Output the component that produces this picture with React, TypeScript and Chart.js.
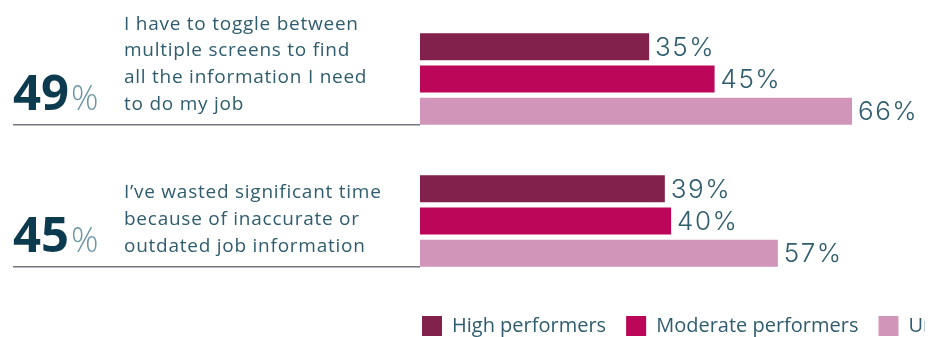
import React, { useEffect, useRef } from 'react';
import { Chart, registerables } from 'chart.js';

Chart.register(...registerables);

const categories = ['Toggle between screens', 'Inaccurate or outdated information'];
const overallPercent = [49, 45];
const statementLines = [
  ['I have to toggle between', 'multiple screens to find', 'all the information I need', 'to do my job'],
  ['I\u2019ve wasted significant time', 'because of inaccurate or', 'outdated job information'],
];
const seriesNames = ['High performers', 'Moderate performers', 'Underperformers'];
const highPerformers = [35, 39];
const moderatePerformers = [45, 40];
const underperformers = [66, 57];
const seriesValues = [highPerformers, moderatePerformers, underperformers];
const seriesColors = ['#82214b', '#bb0659', '#d195ba'];

// each statement panel in the reference uses its own bar scale
const axisMaxByGroup = [118.85, 123.93];
const axisIds = ['x', 'x2'];

const TEXT = '#2f5d6e';

const sidePlugin = {
  id: 'sideText',
  afterDatasetsDraw(chart: any) {
    const ctx = chart.ctx as any;
    const yScale = chart.scales.y;
    const left = 5;
    ctx.save();
    categories.forEach((_, i) => {
      const cy = yScale.getPixelForValue(i);
      const base = cy + 31;
      const lastEl = chart.getDatasetMeta(i * seriesNames.length + seriesNames.length - 1).data[i];
      const ruleY = lastEl.y + lastEl.height / 2;
      ctx.strokeStyle = '#77777f';
      ctx.lineWidth = 1.5;
      ctx.beginPath();
      ctx.moveTo(left, ruleY);
      ctx.lineTo(chart.chartArea.left, ruleY);
      ctx.stroke();
      ctx.textBaseline = 'alphabetic';
      ctx.textAlign = 'left';
      ctx.letterSpacing = '0px';
      ctx.fillStyle = '#0c3a4e';
      ctx.font = '700 49px "Open Sans"';
      const num = String(overallPercent[i]);
      ctx.fillText(num, left, base);
      const w = ctx.measureText(num).width;
      ctx.fillStyle = '#6b96a4';
      ctx.font = '300 34px "Open Sans"';
      ctx.fillText('%', left + w + 2, base);
      ctx.fillStyle = TEXT;
      ctx.font = '400 19px "Open Sans"';
      ctx.letterSpacing = '0.75px';
      const lines = statementLines[i];
      lines.forEach((line, k) => {
        ctx.fillText(line, 116, base - (lines.length - 1 - k) * 26.8);
      });
    });
    ctx.fillStyle = TEXT;
    ctx.font = '300 26px "Inter"';
    ctx.letterSpacing = '1.5px';
    ctx.textBaseline = 'middle';
    chart.data.datasets.forEach((ds: any, d: number) => {
      const meta = chart.getDatasetMeta(d);
      meta.data.forEach((el: any, j: number) => {
        const v = ds.data[j];
        if (v === null || v === undefined) return;
        ctx.fillText(v + '%', el.x + 6, el.y + 1);
      });
    });
    ctx.restore();
  },
};

export default function App() {
  const ref = useRef<HTMLCanvasElement>(null);
  useEffect(() => {
    const datasets: any[] = [];
    categories.forEach((_, g) => {
      seriesNames.forEach((name, s) => {
        datasets.push({
          label: name,
          data: categories.map((__, i) => (i === g ? seriesValues[s][g] : null)),
          backgroundColor: seriesColors[s],
          borderWidth: 0,
          xAxisID: axisIds[g],
          skipNull: true,
          categoryPercentage: 0.6813,
          barPercentage: 0.837,
        });
      });
    });
    const chart = new Chart(ref.current!, {
      type: 'bar',
      data: { labels: categories, datasets },
      plugins: [sidePlugin],
      options: {
        indexAxis: 'y',
        animation: false,
        responsive: false,
        devicePixelRatio: 1,
        events: [],
        layout: { padding: { left: 394, right: 10, top: 0, bottom: 0 } },
        scales: {
          y: {
            type: 'category',
            display: true,
            ticks: { display: false },
            grid: { display: false },
            border: { display: false },
            afterFit: (s: any) => { s.width = 18; },
          },
          x: {
            type: 'linear',
            axis: 'x',
            position: 'bottom',
            min: 0,
            max: axisMaxByGroup[0],
            display: true,
            ticks: { display: false },
            grid: { display: false },
            border: { display: false },
            afterFit: (s: any) => { s.height = 4; },
          },
          x2: {
            type: 'linear',
            axis: 'x',
            position: 'bottom',
            min: 0,
            max: axisMaxByGroup[1],
            display: false,
          },
        },
        plugins: {
          tooltip: { enabled: false },
          legend: {
            position: 'bottom',
            align: 'start',
            labels: {
              boxWidth: 20,
              boxHeight: 20,
              padding: 20,
              color: TEXT,
              font: { family: 'Open Sans', size: 20 },
              filter: (item: any) => item.datasetIndex < seriesNames.length,
            },
          },
        },
      } as any,
    });
    return () => chart.destroy();
  }, []);
  return (
    <div style={{ width: 925, height: 329, overflow: 'hidden', position: 'relative' }}>
      <canvas ref={ref} width={1200} height={338} style={{ display: 'block', width: 1200, height: 338 }} />
    </div>
  );
}
